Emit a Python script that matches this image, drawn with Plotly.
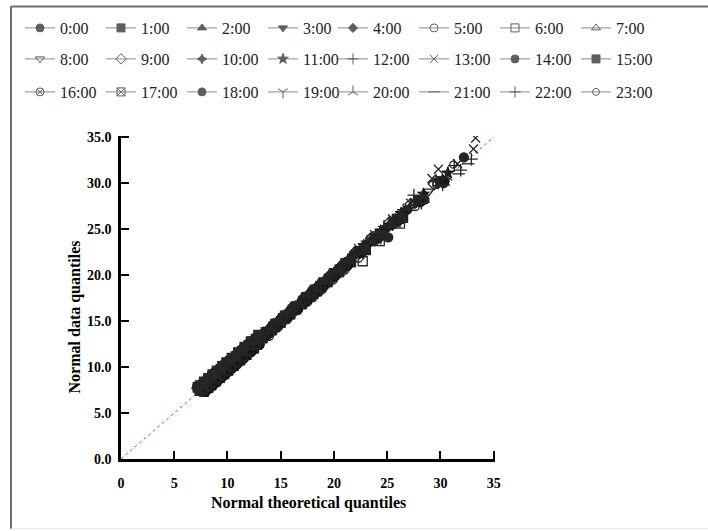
import plotly.graph_objects as go

# ---------------- data (theoretical quantile x, data quantile y) per hour ----------------
hours = ["0:00", "1:00", "2:00", "3:00", "4:00", "5:00", "6:00", "7:00",
         "8:00", "9:00", "10:00", "11:00", "12:00", "13:00", "14:00", "15:00",
         "16:00", "17:00", "18:00", "19:00", "20:00", "21:00", "22:00", "23:00"]

x0 = [7.5, 7.9, 8.3, 8.6, 9.0, 9.4, 9.8, 10.3, 10.8, 11.4, 12.0, 12.7, 13.5, 14.4, 15.2, 16.1, 17.3, 18.0, 18.6, 19.7, 20.8, 21.9, 23.4, 25.0, 26.9]
y0 = [8.1, 8.5, 8.9, 9.3, 9.6, 10.0, 10.4, 10.9, 11.3, 12.0, 12.6, 13.2, 13.8, 14.7, 15.5, 16.5, 17.6, 18.3, 18.9, 20.0, 21.1, 22.2, 23.6, 25.2, 27.1]
x1 = [7.8, 8.2, 8.5, 8.9, 9.3, 9.7, 10.1, 10.6, 11.2, 11.8, 12.5, 13.3, 14.2, 15.0, 15.9, 17.0, 17.8, 18.4, 19.4, 20.5, 21.6, 23.0, 24.6, 26.5]
y1 = [7.3, 7.7, 8.0, 8.4, 8.8, 9.2, 9.6, 10.1, 10.7, 11.3, 12.0, 13.1, 14.0, 14.8, 15.7, 16.8, 17.6, 18.2, 19.2, 20.3, 21.4, 22.7, 24.3, 26.2]
x2 = [7.3, 7.7, 8.1, 8.4, 8.8, 9.2, 9.6, 10.0, 10.5, 11.0, 11.6, 12.3, 13.1, 13.9, 14.8, 15.7, 16.8, 17.6, 18.3, 19.2, 20.2, 21.3, 22.6, 24.1, 25.8]
y2 = [7.5, 7.9, 8.3, 8.6, 9.0, 9.4, 9.8, 10.2, 10.7, 11.2, 11.8, 12.5, 13.2, 14.0, 14.9, 15.8, 16.9, 17.7, 18.4, 19.3, 20.3, 21.4, 23.0, 24.5, 26.2]
x3 = [7.6, 7.8, 8.1, 8.5, 8.9, 9.2, 9.7, 10.1, 10.6, 11.1, 11.7, 12.4, 13.2, 14.0, 14.9, 15.8, 16.9, 17.7, 18.2, 19.0, 20.0, 21.1, 22.4, 23.8, 25.5]
y3 = [7.3, 7.5, 7.8, 8.2, 8.6, 8.9, 9.4, 9.8, 10.3, 10.8, 11.4, 12.1, 12.9, 13.7, 14.6, 15.5, 16.6, 17.4, 17.9, 18.7, 19.7, 20.8, 22.2, 23.6, 25.3]
x4 = [7.2, 7.5, 7.9, 8.2, 8.6, 9.0, 9.4, 9.8, 10.2, 10.7, 11.3, 11.9, 12.6, 13.4, 14.3, 15.1, 16.0, 17.1, 17.9, 18.5, 19.5, 20.6, 21.7, 23.1, 24.8, 26.7]
y4 = [7.9, 8.2, 8.6, 8.9, 9.3, 9.7, 10.1, 10.5, 10.9, 11.4, 12.0, 12.6, 13.3, 13.8, 14.7, 15.5, 16.4, 17.5, 18.3, 18.9, 19.9, 21.0, 22.1, 23.4, 25.1, 27.0]
x5 = [7.9, 8.0, 8.4, 8.8, 9.1, 9.5, 9.9, 10.4, 10.9, 11.5, 12.2, 13.0, 13.9, 14.7, 15.6, 16.6, 17.5, 18.1, 18.9, 19.9, 21.0, 22.3, 23.9, 25.7, 27.6]
y5 = [7.3, 7.4, 7.8, 8.2, 8.5, 8.9, 9.3, 9.8, 10.3, 10.9, 11.6, 12.4, 13.4, 14.3, 15.2, 16.2, 17.1, 17.7, 18.5, 19.5, 20.6, 21.9, 23.8, 25.6, 27.5]
x6 = [7.4, 7.8, 8.2, 8.5, 8.9, 9.3, 9.7, 10.2, 10.7, 11.2, 11.8, 12.5, 13.3, 14.1, 15.0, 15.9, 17.0, 17.8, 18.5, 19.4, 20.5, 21.6, 22.7, 24.3, 26.2]
y6 = [7.4, 7.8, 8.2, 8.5, 8.9, 9.3, 9.7, 10.2, 10.7, 11.2, 11.8, 12.5, 13.2, 14.0, 14.9, 15.8, 16.9, 17.7, 18.4, 19.3, 20.4, 21.4, 21.5, 23.7, 25.6]
x7 = [7.3, 7.5, 7.9, 8.3, 8.7, 9.1, 9.5, 9.9, 10.4, 10.9, 11.5, 12.1, 12.8, 13.6, 14.5, 15.4, 16.3, 17.4, 18.1, 18.8, 19.8, 20.9, 22.1, 23.6, 25.3, 27.3]
y7 = [7.7, 7.9, 8.3, 8.7, 9.1, 9.5, 9.9, 10.3, 10.8, 11.3, 11.9, 12.5, 13.2, 13.8, 14.7, 15.6, 16.5, 17.6, 18.3, 19.0, 20.0, 21.1, 22.4, 23.9, 25.6, 27.6]
x8 = [7.5, 7.7, 8.1, 8.4, 8.8, 9.2, 9.6, 10.1, 10.6, 11.1, 11.7, 12.4, 13.2, 14.1, 15.0, 15.9, 17.0, 17.8, 18.4, 19.3, 20.4, 21.6, 23.1, 24.8, 26.8, 28.9]
y8 = [7.3, 7.5, 7.9, 8.2, 8.6, 9.0, 9.4, 9.9, 10.4, 10.9, 11.5, 12.2, 13.0, 13.9, 14.8, 15.7, 16.8, 17.6, 18.2, 19.1, 20.2, 21.4, 23.3, 25.0, 27.0, 29.1]
x9 = [7.2, 7.4, 7.8, 8.2, 8.6, 9.0, 9.4, 9.8, 10.3, 10.8, 11.3, 11.9, 12.6, 13.4, 14.3, 15.2, 16.1, 17.2, 18.0, 18.7, 19.7, 20.8, 22.0, 23.5, 25.2, 27.2, 29.4]
y9 = [7.7, 7.9, 8.3, 8.7, 9.1, 9.5, 9.9, 10.3, 10.8, 11.3, 11.8, 12.4, 13.1, 13.7, 14.6, 15.5, 16.4, 17.5, 18.3, 19.0, 20.0, 21.1, 22.5, 24.0, 25.7, 27.7, 29.9]
x10 = [7.8, 7.9, 8.3, 8.7, 9.1, 9.5, 10.0, 10.5, 11.0, 11.6, 12.2, 12.9, 13.7, 14.6, 15.5, 16.5, 17.5, 18.2, 19.0, 20.0, 21.2, 22.5, 24.0, 25.8, 27.9, 30.2]
y10 = [7.4, 7.5, 7.9, 8.3, 8.7, 9.1, 9.6, 10.1, 10.6, 11.2, 11.8, 12.5, 13.7, 14.6, 15.5, 16.5, 17.5, 18.2, 19.0, 20.0, 21.2, 22.7, 24.2, 26.0, 28.1, 30.4]
x11 = [7.3, 7.6, 8.0, 8.4, 8.8, 9.2, 9.7, 10.2, 10.7, 11.2, 11.8, 12.4, 13.1, 13.9, 14.8, 15.7, 16.7, 17.6, 18.3, 19.2, 20.2, 21.4, 22.8, 24.4, 26.3, 28.4, 30.7]
y11 = [7.6, 7.9, 8.3, 8.7, 9.1, 9.5, 10.0, 10.5, 11.0, 11.5, 12.1, 12.7, 13.2, 14.0, 14.9, 15.8, 16.8, 17.7, 18.4, 19.3, 20.3, 21.5, 23.2, 24.8, 26.7, 28.8, 31.1]
x12 = [7.6, 8.0, 8.4, 8.9, 9.3, 9.8, 10.3, 10.8, 11.4, 12.0, 12.6, 13.3, 14.1, 15.0, 15.9, 16.9, 17.8, 18.5, 19.4, 20.5, 21.7, 23.1, 24.7, 26.5, 27.5, 29.6, 31.3]
y12 = [7.5, 7.9, 8.3, 8.8, 9.2, 9.7, 10.2, 10.7, 11.3, 11.9, 12.5, 13.6, 14.4, 15.3, 16.2, 17.2, 18.1, 18.8, 19.7, 20.8, 22.0, 23.7, 25.3, 27.1, 28.7, 30.2, 31.9]
x13 = [7.6, 8.1, 8.5, 9.0, 9.4, 9.9, 10.4, 11.0, 11.6, 12.2, 12.9, 13.6, 14.5, 15.4, 16.3, 17.3, 18.1, 18.9, 19.9, 21.0, 22.3, 23.8, 25.5, 27.2, 29.2, 29.8, 31.6, 33.1, 33.3]
y13 = [7.7, 8.2, 8.6, 9.1, 9.5, 10.0, 10.5, 11.1, 11.7, 12.3, 13.0, 13.8, 14.7, 15.6, 16.5, 17.5, 18.3, 19.1, 20.1, 21.2, 22.9, 24.4, 26.1, 27.8, 30.5, 31.5, 32.1, 33.7, 34.9]
x14 = [7.9, 8.3, 8.8, 9.2, 9.6, 10.1, 10.6, 11.2, 11.8, 12.4, 13.2, 14.0, 14.9, 15.8, 16.8, 17.7, 18.4, 19.3, 20.4, 21.6, 23.0, 25.1, 26.4, 28.5, 30.3, 32.2]
y14 = [7.4, 7.8, 8.3, 8.7, 9.1, 9.6, 10.1, 10.7, 11.3, 11.9, 13.1, 13.9, 14.8, 15.7, 16.7, 17.6, 18.3, 19.2, 20.3, 21.5, 22.7, 24.1, 26.1, 28.2, 30.0, 32.8]
x15 = [7.2, 7.4, 7.8, 8.2, 8.6, 9.0, 9.5, 9.9, 10.4, 11.0, 11.6, 12.2, 12.9, 13.8, 14.7, 15.6, 16.6, 17.6, 18.3, 19.1, 20.2, 21.4, 22.8, 24.3, 26.0, 28.0, 30.1]
y15 = [7.8, 8.0, 8.4, 8.8, 9.2, 9.6, 10.1, 10.5, 11.0, 11.6, 12.2, 12.8, 13.5, 13.8, 14.7, 15.6, 16.6, 17.6, 18.3, 19.1, 20.2, 21.4, 22.9, 24.4, 26.1, 28.1, 30.2]
x16 = [7.6, 7.7, 8.1, 8.5, 8.9, 9.3, 9.7, 10.2, 10.7, 11.3, 11.9, 12.6, 13.5, 14.4, 15.3, 16.2, 17.3, 18.1, 18.8, 19.8, 20.9, 22.2, 23.7, 25.5, 27.5, 29.7]
y16 = [7.3, 7.4, 7.8, 8.2, 8.6, 9.0, 9.4, 9.9, 10.4, 11.0, 11.6, 12.3, 13.3, 14.2, 15.1, 16.0, 17.1, 17.9, 18.6, 19.6, 20.7, 22.5, 24.0, 25.8, 27.8, 30.0]
x17 = [7.4, 7.8, 8.2, 8.6, 9.0, 9.4, 9.9, 10.4, 10.9, 11.4, 12.0, 12.7, 13.6, 14.5, 15.4, 16.4, 17.4, 18.2, 19.0, 20.0, 21.1, 22.4, 24.0, 25.9, 27.9, 30.0]
y17 = [7.6, 8.0, 8.4, 8.8, 9.2, 9.6, 10.1, 10.6, 11.1, 11.6, 12.2, 12.9, 13.8, 14.7, 15.6, 16.6, 17.6, 18.4, 19.2, 20.2, 21.3, 22.6, 24.2, 26.1, 28.1, 30.2]
x18 = [7.9, 8.0, 8.3, 8.7, 9.1, 9.5, 10.0, 10.5, 11.0, 11.6, 12.3, 13.0, 13.8, 14.7, 15.6, 16.6, 17.5, 18.2, 19.0, 20.1, 21.3, 22.6, 24.2, 26.0, 28.1, 30.4]
y18 = [7.3, 7.4, 7.7, 8.1, 8.5, 8.9, 9.4, 9.9, 10.4, 11.0, 11.7, 12.4, 13.5, 14.4, 15.3, 16.3, 17.2, 17.9, 18.7, 19.8, 21.0, 22.4, 24.0, 25.8, 27.9, 30.2]
x19 = [7.2, 7.4, 7.8, 8.2, 8.6, 9.0, 9.4, 9.8, 10.3, 10.8, 11.4, 12.0, 12.7, 13.5, 14.4, 15.3, 16.3, 17.3, 18.0, 18.8, 19.8, 21.0, 22.3, 23.8, 25.6, 27.6, 29.8]
y19 = [7.7, 7.9, 8.3, 8.7, 9.1, 9.5, 9.9, 10.3, 10.8, 11.3, 11.9, 12.5, 13.2, 13.6, 14.5, 15.4, 16.4, 17.4, 18.1, 18.9, 19.9, 21.1, 22.6, 24.1, 25.9, 27.9, 30.1]
x20 = [7.5, 7.9, 8.3, 8.7, 9.1, 9.6, 10.0, 10.5, 11.1, 11.7, 12.3, 13.0, 13.9, 14.8, 15.7, 16.7, 17.6, 18.3, 19.1, 20.1, 21.3, 22.7, 24.3, 26.2, 28.3, 30.6]
y20 = [7.3, 7.7, 8.1, 8.5, 8.9, 9.4, 9.8, 10.3, 10.9, 11.5, 12.1, 12.8, 14.2, 15.1, 16.0, 17.0, 17.9, 18.6, 19.4, 20.4, 21.6, 22.8, 24.4, 26.3, 28.4, 30.7]
x21 = [7.6, 8.0, 8.4, 8.8, 9.2, 9.7, 10.2, 10.7, 11.3, 11.9, 12.5, 13.2, 14.0, 14.9, 15.8, 16.8, 17.7, 18.4, 19.3, 20.3, 21.5, 22.9, 24.5, 26.3, 28.4, 30.3, 31.7, 32.6]
y21 = [7.6, 8.0, 8.4, 8.8, 9.2, 9.7, 10.2, 10.7, 11.3, 11.9, 12.5, 13.2, 14.0, 14.9, 15.8, 16.8, 17.7, 18.4, 19.3, 20.3, 21.5, 22.4, 24.0, 25.8, 27.9, 29.8, 31.0, 32.1]
x22 = [7.3, 7.5, 7.9, 8.3, 8.7, 9.2, 9.6, 10.1, 10.6, 11.1, 11.7, 12.3, 13.0, 13.8, 14.7, 15.6, 16.6, 17.6, 18.3, 19.2, 20.2, 21.4, 22.8, 24.4, 26.2, 28.2, 30.2, 31.9, 32.9]
y22 = [7.6, 7.8, 8.2, 8.6, 9.0, 9.5, 9.9, 10.4, 10.9, 11.4, 12.0, 12.6, 12.9, 13.7, 14.6, 15.5, 16.5, 17.5, 18.2, 19.1, 20.1, 21.3, 22.4, 24.0, 25.8, 27.8, 29.8, 31.4, 32.6]
x23 = [7.7, 7.9, 8.2, 8.6, 9.1, 9.5, 9.9, 10.4, 10.9, 11.5, 12.1, 12.8, 13.6, 14.5, 15.4, 16.4, 17.4, 18.1, 18.9, 19.9, 21.1, 22.4, 23.9, 25.7, 27.8, 29.6, 31.2]
y23 = [7.3, 7.5, 7.8, 8.2, 8.7, 9.1, 9.5, 10.0, 10.5, 11.1, 11.7, 12.4, 13.7, 14.6, 15.5, 16.5, 17.5, 18.2, 19.0, 20.0, 21.2, 22.6, 24.1, 25.9, 28.0, 29.8, 32.0]

xs = [x0, x1, x2, x3, x4, x5, x6, x7, x8, x9, x10, x11, x12, x13, x14, x15,
      x16, x17, x18, x19, x20, x21, x22, x23]
ys = [y0, y1, y2, y3, y4, y5, y6, y7, y8, y9, y10, y11, y12, y13, y14, y15,
      y16, y17, y18, y19, y20, y21, y22, y23]

ref_line = [0, 35]                      # y = x reference line end points
x_ticks = [0, 5, 10, 15, 20, 25, 30, 35]
y_ticks = [0, 5, 10, 15, 20, 25, 30, 35]

# ---------------- styling ----------------
symbols = ["circle", "square", "triangle-up", "triangle-down", "diamond",
           "circle-open", "square-open", "triangle-up-open", "triangle-down-open", "diamond-open",
           "star-diamond", "star", "cross-thin-open", "x-thin-open", "circle-dot",
           "square-dot", "circle-x-open", "square-x-open", "circle-cross", "y-down-open",
           "y-up-open", "line-ew-open", "cross-thin-open", "circle-open"]
filled = {"circle", "square", "triangle-up", "triangle-down", "diamond",
          "star-diamond", "star", "circle-cross"}
sizes = [9] * 24
sizes[4] = 8
sizes[10] = 8
sizes[23] = 7

FONT = "Liberation Serif"
fig = go.Figure()

fig.add_trace(go.Scatter(x=ref_line, y=ref_line, mode="lines",
                         line=dict(color="#e8413c", width=1, dash="dot"),
                         showlegend=False, hoverinfo="skip"))

for i, h in enumerate(hours):
    sym = symbols[i]
    if sym in filled:
        mk = dict(symbol=sym, size=sizes[i], color="#1c1c1c",
                  line=dict(color="#111111", width=1))
    else:
        mk = dict(symbol=sym, size=sizes[i], color="#262626",
                  line=dict(color="#262626", width=1.3))
    fig.add_trace(go.Scatter(x=xs[i], y=ys[i], mode="markers", marker=mk,
                             showlegend=False, hoverinfo="skip"))

# legend-only entries (line through marker, as in the reference legend),
# split into 6 small one-row legends: 3 rows x 2 halves of 4 entries
legend_names = ["legend", "legend2", "legend3", "legend4", "legend5", "legend6"]
for i, h in enumerate(hours):
    sym = symbols[i]
    row, col = divmod(i, 8)
    lg = legend_names[row * 2 + (col // 4)]
    lsz = 7 if i in (4, 10, 23) else 8
    mk = dict(symbol=sym, size=lsz, color="#5f5f5f", line=dict(color="#5f5f5f", width=1))
    fig.add_trace(go.Scatter(x=[None], y=[None], mode="lines+markers",
                             line=dict(color="#8a8a8a", width=1), marker=mk,
                             name=h, legend=lg, showlegend=True))

# plot-area geometry (pixels) used to position the decoration
W, H = 708, 531
L, R, T, B = 121, 213, 135, 72
pw, ph = W - L - R, H - T - B

def px(xp):
    return (xp - L) / pw

def py(yp):
    return (H - B - yp) / ph

row_y = [28, 59, 92]          # legend row centres (px)
half_x = [39, 352]            # first marker centre of each half (px)

layout_legends = {}
for r in range(3):
    for c in range(2):
        name = legend_names[r * 2 + c]
        layout_legends[name] = dict(
            orientation="h", x=px(half_x[c] - 19), y=py(row_y[r]),
            xanchor="left", yanchor="middle",
            font=dict(family=FONT, size=16, color="#222"),
            entrywidth=36, itemwidth=30,
            bgcolor="rgba(0,0,0,0)", traceorder="normal")

fig.update_layout(
    width=W, height=H,
    margin=dict(l=L, r=R, t=T, b=B),
    paper_bgcolor="white", plot_bgcolor="white",
    font=dict(family=FONT, color="black"),
    showlegend=True,
    xaxis=dict(range=[0, 35.12], tickvals=x_ticks, ticktext=[str(v) for v in x_ticks],
               showline=True, linecolor="black", linewidth=2.5,
               ticks="inside", ticklen=8, tickwidth=2, tickcolor="black",
               showgrid=False, zeroline=False, ticklabelstandoff=9,
               tickfont=dict(family=FONT, size=14, color="black", weight="bold")),
    yaxis=dict(range=[0, 35.12], tickvals=y_ticks, ticktext=["%.1f" % v for v in y_ticks],
               showline=True, linecolor="black", linewidth=2.5,
               ticks="inside", ticklen=8, tickwidth=2, tickcolor="black",
               showgrid=False, zeroline=False, ticklabelstandoff=4,
               tickfont=dict(family=FONT, size=14, color="black", weight="bold")),
    annotations=[
        dict(text="<b>Normal theoretical quantiles</b>", xref="paper", yref="paper",
             x=px(308), y=py(503), xanchor="center", yanchor="middle", showarrow=False,
             font=dict(family=FONT, size=16, color="black")),
        dict(text="<b>Normal data quantiles</b>", xref="paper", yref="paper",
             x=px(75), y=py(317), xanchor="center", yanchor="middle", showarrow=False,
             textangle=-90, font=dict(family=FONT, size=16, color="black")),
    ],
    shapes=[
        dict(type="line", xref="paper", yref="paper", x0=px(11), x1=px(11),
             y0=py(529), y1=py(5), line=dict(color="#6e6e6e", width=2)),
        dict(type="line", xref="paper", yref="paper", x0=px(11), x1=px(720),
             y0=py(5), y1=py(5), line=dict(color="#6e6e6e", width=2)),
        dict(type="line", xref="paper", yref="paper", x0=px(11), x1=px(720),
             y0=py(529), y1=py(529), line=dict(color="#e2e2e2", width=1)),
    ],
    **layout_legends,
)

fig.write_html("out.html")
